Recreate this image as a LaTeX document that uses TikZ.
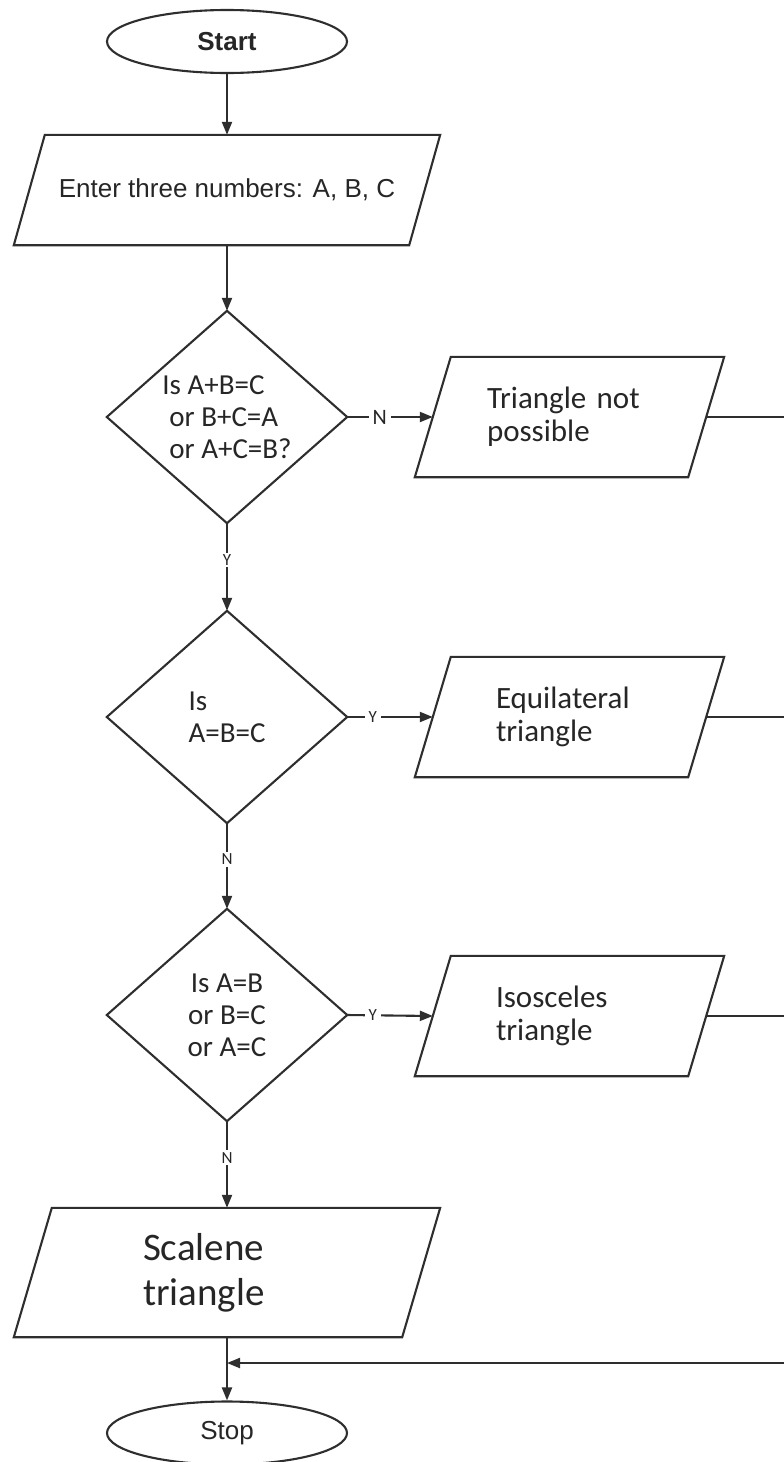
\documentclass[tikz,border=0pt]{standalone}
\usepackage{fontspec}
\setmainfont{Carlito}
\newfontfamily\arialfont{Liberation Sans}
\usetikzlibrary{shapes.geometric,arrows.meta}

\definecolor{ink}{HTML}{2E2E2E}
\definecolor{txt}{HTML}{262626}

% font sizes used in the chart
\newcommand\fcTerm{\arialfont\fontsize{26pt}{30pt}\selectfont}
\newcommand\fcDec{\fontsize{29pt}{32pt}\selectfont}
\newcommand\fcBox{\fontsize{31pt}{33pt}\selectfont}
\newcommand\fcBig{\fontsize{39pt}{45pt}\selectfont}
\newcommand\fcLab{\fontsize{17pt}{20pt}\selectfont}
\newcommand\fcLabBig{\fontsize{22pt}{26pt}\selectfont}

\begin{document}
\begin{tikzpicture}[x=1pt,y=-1pt,
  line/.style={draw=ink,line width=2.1pt},
  flow/.style={line,-{Triangle[length=13pt,width=10pt]}},
  term/.style={ellipse,draw=ink,line width=2.1pt,minimum width=240pt,
    minimum height=63pt,inner sep=0pt,text=txt,font=\fcTerm},
  frame/.style={inner sep=0pt,text=txt},
  dec/.style={frame,minimum width=240pt,minimum height=212pt,font=\fcDec},
  obox/.style={frame,minimum height=120pt,align=left,font=\fcBox},
  lab/.style={fill=white,inner xsep=4pt,inner ysep=2pt,text=txt,font=\fcLab},
  labbig/.style={lab,font=\fcLabBig}
]
\useasboundingbox (0,0) rectangle (784,1462);

% terminals
\node[term,font=\fcTerm\bfseries] (start) at (227,41.5) {Start};
\node[term] (stop) at (227,1433) {Stop};

% input box
\node[frame,minimum width=395pt,minimum height=110pt,font=\fcTerm] (in) at (227,190)
  {Enter three numbers: A, B, C};

% decisions
\node[dec,align=left] (d1) at (227,417)
  {Is A+B=C\\\hspace*{7pt}or B+C=A\\\hspace*{7pt}or A+C=B?};
\node[dec,align=left] (d2) at (227,717) {Is\\A=B=C};
\node[dec,align=center] (d3) at (227,1015) {Is A=B\\or B=C\\or A=C};

% outputs
\node[obox,inner xsep=54pt,text width=165pt] (no) at (569.5,417) {Triangle not\\possible};
\node[obox,inner xsep=63pt,text width=147pt] (eq) at (569.5,717) {Equilateral\\triangle};
\node[obox,inner xsep=63pt,text width=147pt] (is) at (569.5,1016) {Isosceles\\triangle};
\node[frame,minimum height=129pt,inner xsep=110pt,text width=168pt,align=left,font=\fcBig]
  (sc) at (227,1272.5) {Scalene\\triangle};

% outlines of the parallelograms and diamonds
\foreach \n/\s in {in/15.5,no/18,eq/18,is/18,sc/19}
  \draw[line,line join=miter] ([xshift=\s]\n.north west) -- ([xshift=\s]\n.north east)
    -- ([xshift=-\s]\n.south east) -- ([xshift=-\s]\n.south west) -- cycle;
\foreach \n in {d1,d2,d3}
  \draw[line] (\n.north) -- (\n.east) -- (\n.south) -- (\n.west) -- cycle;

% main flow
\draw[flow] (start.south) -- (in.north);
\draw[flow] (in.south) -- (d1.north);
\draw[flow] (d1.east) -- node[labbig,pos=0.38]{N} (no.west);
\draw[flow] (d1.south) -- node[lab,pos=0.42]{Y} (d2.north);
\draw[flow] (d2.east) -- node[lab,pos=0.3]{Y} (eq.west);
\draw[flow] (d2.south) -- node[lab,pos=0.42]{N} (d3.north);
\draw[flow] (d3.east) -- node[lab,pos=0.3]{Y} (is.west);
\draw[flow] (d3.south) -- node[lab,pos=0.42]{N} (sc.north);
\draw[flow] (sc.south) -- (stop.north);

% lines leaving to the right and the common return
\coordinate (e1) at (784,417);
\coordinate (e2) at (784,717);
\coordinate (e3) at (784,1016);
\coordinate (ret) at (784,1363);
\draw[line] (no.east) -- (e1);
\draw[line] (eq.east) -- (e2);
\draw[line] (is.east) -- (e3);
\draw[flow] (ret) -- (ret -| stop.north);
\end{tikzpicture}
\end{document}
